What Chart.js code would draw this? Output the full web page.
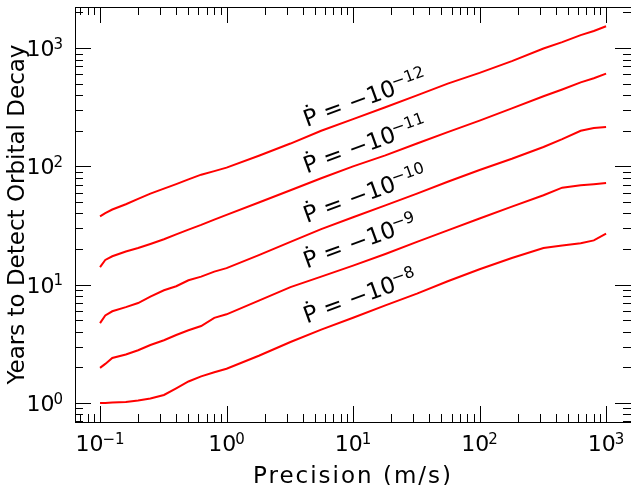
<!DOCTYPE html>
<html>
<head>
<meta charset="utf-8">
<script src="https://cdn.jsdelivr.net/npm/chart.js@4"></script>
<style>
  html, body { margin: 0; padding: 0; background: #fff; }
  #wrap { width: 631px; height: 485px; }
</style>
</head>
<body>
<div id="wrap"><canvas id="decay-chart" width="631" height="485"></canvas></div>
<script>
// precision grid (m/s) shared by all curves
const precision = [0.1, 0.11, 0.125, 0.16, 0.2, 0.25, 0.32, 0.4, 0.5, 0.63, 0.8, 1,
  1.8, 3.2, 5.6, 10, 18, 32, 56, 100, 180, 320, 450, 630, 800, 1000];

// years to detect decay, one list per Pdot
const years12 = [37.8, 40.3, 43.2, 47.9, 53.1, 58.9, 64.9, 70.8, 77.6, 85.1, 91.2, 97.7,
  123, 156, 200, 251, 316, 398, 501, 617, 776, 991, 1122, 1288, 1396, 1528];
const years11 = [14.1, 16.2, 17.4, 19.1, 20.4, 22.1, 24.2, 26.6, 29.2, 32.0, 35.5, 38.9,
  49.5, 62.8, 79.4, 100, 124, 156, 195, 244, 309, 392, 447, 513, 556, 608];
const years10 = [4.74, 5.50, 5.96, 6.46, 7.00, 7.94, 8.97, 9.7, 10.9, 11.7, 12.9, 13.8,
  17.8, 23.0, 29.5, 37.2, 46.8, 58.9, 74.1, 93.3, 116, 146, 170, 200, 211, 215];
const years9 = [1.98, 2.14, 2.40, 2.57, 2.79, 3.09, 3.39, 3.76, 4.12, 4.47, 5.25, 5.62,
  7.33, 9.55, 11.7, 14.5, 18.2, 23.0, 28.8, 36.3, 45.7, 57.0, 66.1, 69.2, 70.8, 72.4];
const years8 = [1.0, 1.0, 1.01, 1.02, 1.05, 1.09, 1.17, 1.33, 1.52, 1.68, 1.82, 1.95,
  2.51, 3.28, 4.17, 5.25, 6.68, 8.41, 10.7, 13.5, 16.8, 20.4, 21.4, 22.4, 23.7, 27.0];

const series = [years12, years11, years10, years9, years8];
const pdotExps = ['\u221212', '\u221211', '\u221210', '\u22129', '\u22128'];

// axis decades that get a 10^n label
const xTickExps = [-1, 0, 1, 2, 3];
const yTickExps = [0, 1, 2, 3];
const xTitle = 'Precision (m/s)';
const yTitle = 'Years to Detect Orbital Decay';

// where the curve labels sit (data units)
const labelX = 4.3;
const labelY = [215, 87, 33.2, 13.7, 4.7];

const FONT = "'DejaVu Sans', sans-serif";

function drawPow(ctx, exp, size) {
  // "10" with a raised exponent; origin = left baseline
  ctx.font = size + 'px ' + FONT;
  ctx.fillText('10', 0, 0);
  const w = ctx.measureText('10').width;
  ctx.font = Math.round(size * 0.7) + 'px ' + FONT;
  ctx.fillText(exp, w - size * 0.05, -size * 0.33);
}

function powWidth(ctx, exp, size) {
  ctx.font = size + 'px ' + FONT;
  const w = ctx.measureText('10').width;
  ctx.font = Math.round(size * 0.7) + 'px ' + FONT;
  return w - size * 0.05 + ctx.measureText(exp).width;
}

function supText(n) {
  return n < 0 ? '\u2212' + Math.abs(n) : String(n);
}

function logTicks(min, max) {
  const out = [];
  for (let k = Math.floor(Math.log10(min)); k <= Math.ceil(Math.log10(max)); k++) {
    for (let m = 1; m <= 9; m++) {
      const v = m * Math.pow(10, k);
      if (v >= min && v <= max) out.push({ v, major: m === 1 });
    }
  }
  return out;
}

const mplAxes = {
  id: 'mplAxes',
  afterDatasetsDraw(chart) {
    const { ctx, chartArea: a, scales: { x, y } } = chart;
    ctx.save();
    ctx.strokeStyle = '#000';
    ctx.fillStyle = '#000';
    ctx.lineWidth = 1;
    ctx.strokeRect(a.left + 0.5, a.top + 0.5, a.right - a.left, a.bottom - a.top);

    // inward ticks on all four sides
    ctx.beginPath();
    logTicks(x.min, x.max).forEach(t => {
      const px = Math.round(x.getPixelForValue(t.v)) + 0.5;
      const len = t.major ? 16 : 8;
      ctx.moveTo(px, a.bottom); ctx.lineTo(px, a.bottom - len);
      ctx.moveTo(px, a.top); ctx.lineTo(px, a.top + len);
    });
    logTicks(y.min, y.max).forEach(t => {
      const py = Math.round(y.getPixelForValue(t.v)) + 0.5;
      const len = t.major ? 16 : 8;
      ctx.moveTo(a.left, py); ctx.lineTo(a.left + len, py);
      ctx.moveTo(a.right, py); ctx.lineTo(a.right - len, py);
    });
    ctx.stroke();

    // tick labels
    ctx.textAlign = 'left';
    ctx.textBaseline = 'alphabetic';
    xTickExps.forEach(e => {
      const px = x.getPixelForValue(Math.pow(10, e));
      const w = powWidth(ctx, supText(e), 22);
      ctx.save();
      ctx.translate(px - w / 2, a.bottom + 29);
      drawPow(ctx, supText(e), 22);
      ctx.restore();
    });
    yTickExps.forEach(e => {
      const py = y.getPixelForValue(Math.pow(10, e));
      const w = powWidth(ctx, supText(e), 22);
      ctx.save();
      ctx.translate(a.left - 12 - w, py + 8);
      drawPow(ctx, supText(e), 22);
      ctx.restore();
    });

    // axis titles
    ctx.textAlign = 'center';
    ctx.font = '23px ' + FONT;
    ctx.letterSpacing = '2px';
    ctx.fillText(xTitle, (a.left + a.right) / 2, 483);
    ctx.letterSpacing = '0px';
    ctx.save();
    ctx.translate(24, (a.top + a.bottom) / 2);
    ctx.rotate(-Math.PI / 2);
    ctx.fillText(yTitle, 0, 0);
    ctx.restore();

    // curve labels, tilted along the lines
    ctx.textAlign = 'left';
    pdotExps.forEach((e, i) => {
      const px = x.getPixelForValue(labelX);
      const py = y.getPixelForValue(labelY[i]);
      ctx.save();
      ctx.translate(px, py);
      ctx.rotate(-20 * Math.PI / 180);
      ctx.font = '23px ' + FONT;
      const head = '\u1E56 = \u2212';
      ctx.fillText(head, 0, 0);
      const hw = ctx.measureText(head).width;
      ctx.translate(hw, 0);
      drawPow(ctx, e, 23);
      ctx.restore();
    });
    ctx.restore();
  }
};

const datasets = series.map(vals => ({
  data: precision.map((p, i) => ({ x: p, y: vals[i] })),
  borderColor: '#ff0000',
  borderWidth: 2,
  pointRadius: 0,
  tension: 0,
  fill: false
}));

new Chart(document.getElementById('decay-chart'), {
  type: 'line',
  data: { datasets },
  options: {
    responsive: false,
    animation: false,
    events: [],
    layout: { padding: { left: 75, right: 0, top: 7, bottom: 63 } },
    plugins: { legend: { display: false }, tooltip: { enabled: false } },
    scales: {
      x: { type: 'logarithmic', display: false, min: 0.0634, max: 1574 },
      y: { type: 'logarithmic', display: false, min: 0.691, max: 2225 }
    }
  },
  plugins: [mplAxes]
});
</script>
</body>
</html>
